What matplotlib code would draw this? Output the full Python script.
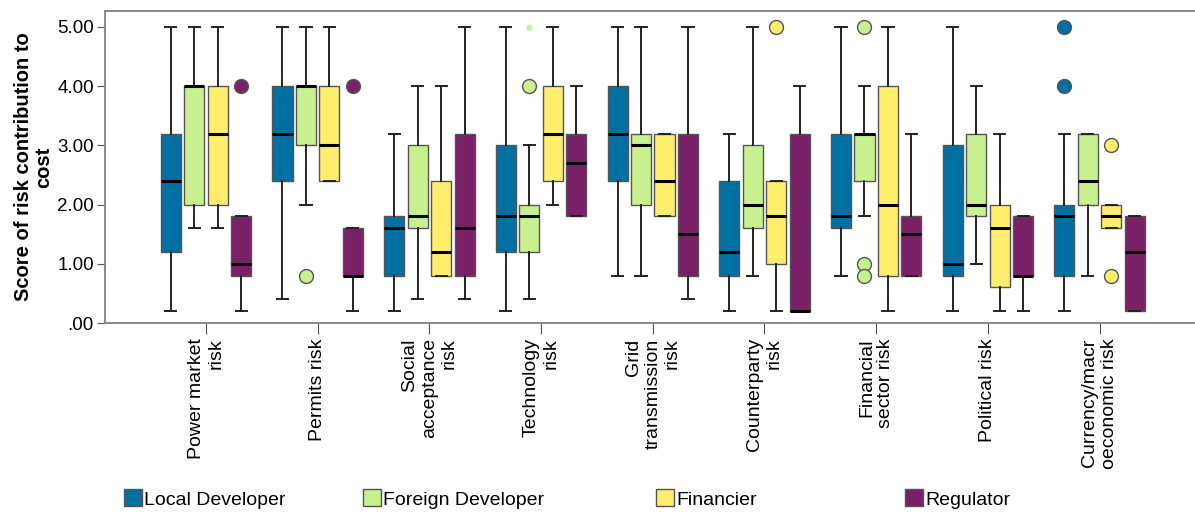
import matplotlib
matplotlib.use("Agg")
import matplotlib.pyplot as plt
from matplotlib.patches import Patch

categories = ['Power market\nrisk', 'Permits risk', 'Social\nacceptance\nrisk',
              'Technology\nrisk', 'Grid\ntransmission\nrisk', 'Counterparty\nrisk',
              'Financial\nsector risk', 'Political risk', 'Currency/macr\noeconomic risk']
groups = ['Local Developer', 'Foreign Developer', 'Financier', 'Regulator']
colors = ['#0070a3', '#c8f08f', '#ffee6e', '#7a2068']

# whisker low, q1, median, q3, whisker high, outliers  (one entry per category)
local_lo = [0.2, 0.4, 0.2, 0.2, 0.8, 0.2, 0.8, 0.2, 0.2]
local_q1 = [1.2, 2.4, 0.8, 1.2, 2.4, 0.8, 1.6, 0.8, 0.8]
local_med = [2.4, 3.2, 1.6, 1.8, 3.2, 1.2, 1.8, 1.0, 1.8]
local_q3 = [3.2, 4.0, 1.8, 3.0, 4.0, 2.4, 3.2, 3.0, 2.0]
local_hi = [5.0, 5.0, 3.2, 5.0, 5.0, 3.2, 5.0, 5.0, 3.2]
local_out = [[], [], [], [], [], [], [], [], [4.0, 5.0]]

foreign_lo = [1.6, 2.0, 0.4, 0.4, 0.8, 0.8, 1.8, 1.0, 0.8]
foreign_q1 = [2.0, 3.0, 1.6, 1.2, 2.0, 1.6, 2.4, 1.8, 2.0]
foreign_med = [4.0, 4.0, 1.8, 1.8, 3.0, 2.0, 3.2, 2.0, 2.4]
foreign_q3 = [4.0, 4.0, 3.0, 2.0, 3.2, 3.0, 3.2, 3.2, 3.2]
foreign_hi = [5.0, 5.0, 4.0, 3.0, 5.0, 5.0, 4.0, 4.0, 3.2]
foreign_out = [[], [0.8], [], [4.0], [], [], [5.0, 1.0, 0.8], [], []]

financier_lo = [1.6, 2.4, 0.8, 2.0, 1.8, 0.2, 0.2, 0.2, 1.6]
financier_q1 = [2.0, 2.4, 0.8, 2.4, 1.8, 1.0, 0.8, 0.6, 1.6]
financier_med = [3.2, 3.0, 1.2, 3.2, 2.4, 1.8, 2.0, 1.6, 1.8]
financier_q3 = [4.0, 4.0, 2.4, 4.0, 3.2, 2.4, 4.0, 2.0, 2.0]
financier_hi = [5.0, 5.0, 4.0, 5.0, 3.2, 2.4, 5.0, 3.2, 2.0]
financier_out = [[], [], [], [], [], [5.0], [], [], [3.0, 0.8]]

regulator_lo = [0.2, 0.2, 0.4, 1.8, 0.4, 0.2, 0.8, 0.2, 0.2]
regulator_q1 = [0.8, 0.8, 0.8, 1.8, 0.8, 0.2, 0.8, 0.8, 0.2]
regulator_med = [1.0, 0.8, 1.6, 2.7, 1.5, 0.2, 1.5, 0.8, 1.2]
regulator_q3 = [1.8, 1.6, 3.2, 3.2, 3.2, 3.2, 1.8, 1.8, 1.8]
regulator_hi = [1.8, 1.6, 5.0, 4.0, 5.0, 4.0, 3.2, 1.8, 1.8]
regulator_out = [[4.0], [4.0], [], [], [], [], [], [], []]

# extreme value (star) for Foreign Developer, Technology risk
extreme_cat = 3
extreme_val = 5.0

series = [
    (local_lo, local_q1, local_med, local_q3, local_hi, local_out),
    (foreign_lo, foreign_q1, foreign_med, foreign_q3, foreign_hi, foreign_out),
    (financier_lo, financier_q1, financier_med, financier_q3, financier_hi, financier_out),
    (regulator_lo, regulator_q1, regulator_med, regulator_q3, regulator_hi, regulator_out),
]

plt.rcParams['font.family'] = ['Liberation Sans', 'DejaVu Sans']

fig = plt.figure(figsize=(11.95, 5.16), dpi=100)
ax = fig.add_axes([105 / 1195, 1 - 323 / 516, 1 - 105 / 1195, (323 - 11) / 516])

offsets = [-0.315, -0.105, 0.105, 0.315]
for g, (lo, q1, med, q3, hi, out) in enumerate(series):
    stats = []
    for i in range(len(categories)):
        stats.append(dict(whislo=lo[i], q1=q1[i], med=med[i], q3=q3[i],
                          whishi=hi[i], fliers=out[i]))
    pos = [i + offsets[g] for i in range(len(categories))]
    ax.bxp(stats, positions=pos, widths=0.18, patch_artist=True,
           capwidths=0.1, manage_ticks=False,
           boxprops=dict(facecolor=colors[g], edgecolor='#555555', linewidth=1.0),
           medianprops=dict(color='black', linewidth=2.2),
           whiskerprops=dict(color='#222222', linewidth=1.4),
           capprops=dict(color='#222222', linewidth=1.4),
           flierprops=dict(marker='o', markersize=10, markerfacecolor=colors[g],
                           markeredgecolor='#555555', markeredgewidth=1.0))

ax.plot([extreme_cat + offsets[1]], [extreme_val], marker='*', markersize=5,
        color=colors[1], linestyle='none')

ax.set_xlim(-0.904, 8.854)
ax.set_ylim(0, 5.27)
ax.set_yticks([0, 1, 2, 3, 4, 5])
ax.set_yticklabels(['.00', '1.00', '2.00', '3.00', '4.00', '5.00'], fontsize=13.5)
ax.set_xticks(range(len(categories)))
ax.set_xticklabels(categories, rotation=90, fontsize=14, ha='center', va='top',
                   multialignment='right')
ax.tick_params(axis='x', length=8, color='#555555', pad=3)
ax.tick_params(axis='y', length=6, color='#555555', pad=2)
for s in ['left', 'bottom', 'top']:
    ax.spines[s].set_color('#808080')
    ax.spines[s].set_linewidth(1.3)
ax.spines['right'].set_visible(False)
ax.set_ylabel('Score of risk contribution to\ncost', fontsize=14.5,
              fontweight='bold', labelpad=3, linespacing=1.05)

legend_x = [124, 363, 656, 905]
for g in range(len(groups)):
    h = Patch(facecolor=colors[g], edgecolor='#555555', linewidth=1.0)
    fig.legend(handles=[h], labels=[groups[g]], loc='center left',
               bbox_to_anchor=(legend_x[g] / 1195, 1 - 499 / 516), frameon=False,
               fontsize=14, handlelength=0.95, handleheight=0.95,
               handletextpad=0.1, borderpad=0, borderaxespad=0)

fig.savefig('out.png', dpi=100)
